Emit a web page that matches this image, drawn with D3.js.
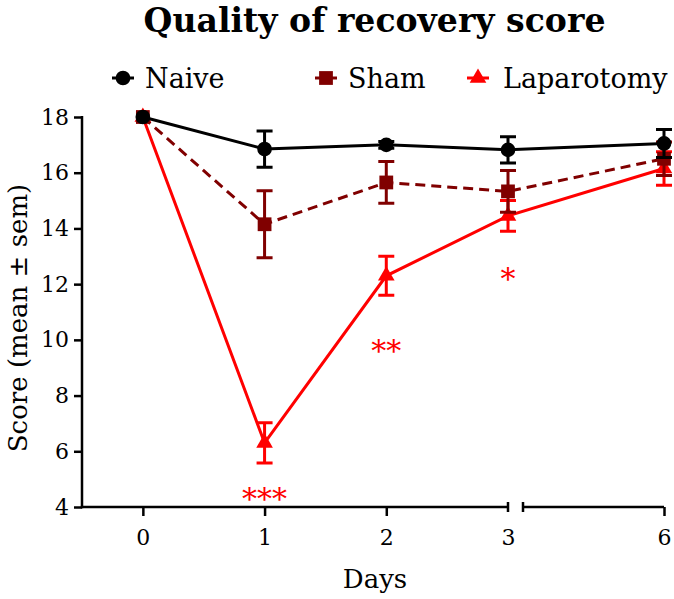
<!DOCTYPE html>
<html><head><meta charset="utf-8">
<script src="https://cdn.jsdelivr.net/npm/d3@7"></script>
<style>body{margin:0;background:#fff}svg{display:block}</style>
</head><body>
<svg id="c" width="674" height="599"></svg>
<script>
// ---- data ----
const days = [0, 1, 2, 3, 6];
const naiveMean = [18, 16.85, 17.0, 16.82, 17.05];
const naiveSem  = [0, 0.65, 0.12, 0.47, 0.5];
const shamMean  = [18, 14.15, 15.65, 15.33, 16.5];
const shamSem   = [0, 1.2, 0.75, 0.75, 0.6];
const lapMean   = [18, 6.3, 12.3, 14.45, 16.15];
const lapSem    = [0, 0.72, 0.7, 0.55, 0.6];
const yTicks = [4, 6, 8, 10, 12, 14, 16, 18];
const xTicks = [0, 1, 2, 3, 6];
const seriesNames = ["Naive", "Sham", "Laparotomy"];
const starDays = [1, 2, 3];
const starLabels = ["***", "**", "*"];
const starLevels = [4.6, 9.9, 12.5];

// ---- styles ----
const colors = {Naive: "#000000", Sham: "#800000", Laparotomy: "#ff0000"};
const FONT = "'DejaVu Serif', Georgia, serif";

const svg = d3.select("#c");
const x = d3.scaleLinear().domain([-0.5, 3, 4.84, 6]).range([82, 508, 523, 664]);
const y = d3.scaleLinear().domain([4, 18]).range([507, 117]);

// title
const title = svg.append("text").attr("x", 374.5).attr("y", 32)
  .attr("text-anchor", "middle").attr("font-family", FONT).attr("font-weight", "bold")
  .attr("font-size", 32).text("Quality of recovery score");
const tw = title.node().getComputedTextLength();
title.attr("font-size", 32 * 462 / tw);

// axes
const yAxis = svg.append("g").attr("transform", "translate(82,0)")
  .call(d3.axisLeft(y).tickValues(yTicks).tickSize(8).tickPadding(5).tickFormat(d3.format("d")));
yAxis.select(".domain").remove();
yAxis.selectAll("line").attr("stroke", "#000").attr("stroke-width", 2.5);
yAxis.selectAll("text").attr("font-family", FONT).attr("font-size", 22).attr("fill", "#000");
svg.append("line").attr("x1", 82).attr("x2", 82).attr("y1", y(18) - 1).attr("y2", y(4) + 1.25)
  .attr("stroke", "#000").attr("stroke-width", 2.5);

const xAxis = svg.append("g").attr("transform", `translate(0,${y(4)})`)
  .call(d3.axisBottom(x).tickValues(xTicks).tickSize(9).tickPadding(13).tickFormat(d3.format("d")));
xAxis.select(".domain").remove();
xAxis.selectAll("line").attr("stroke", "#000").attr("stroke-width", 2.5);
xAxis.selectAll(".tick").filter(d => d === 3).select("line").remove();
xAxis.selectAll("text").attr("font-family", FONT).attr("font-size", 22).attr("fill", "#000");
// broken baseline
const y0 = y(4);
svg.append("path").attr("fill", "none").attr("stroke", "#000").attr("stroke-width", 2.5)
  .attr("d", `M${x(-0.5) - 1.25},${y0}H${x(3)}M${x(3)},${y0 - 5}V${y0 + 5}`);
svg.append("path").attr("fill", "none").attr("stroke", "#000").attr("stroke-width", 2.5)
  .attr("d", `M${x(4.84)},${y0 - 5}V${y0 + 5}M${x(4.84)},${y0}H${x(6)}`);

// axis titles
svg.append("text").attr("transform", `translate(27,${(y(4) + y(18)) / 2 + 6}) rotate(-90)`)
  .attr("text-anchor", "middle").attr("font-family", FONT).attr("font-size", 26).text("Score (mean ± sem)");
svg.append("text").attr("x", 375).attr("y", 588).attr("text-anchor", "middle")
  .attr("font-family", FONT).attr("font-size", 26).text("Days");

// series
const series = [
  {name: "Laparotomy", mean: lapMean, sem: lapSem, sym: d3.symbolTriangle, dash: null},
  {name: "Sham", mean: shamMean, sem: shamSem, sym: d3.symbolSquare, dash: "10,6"},
  {name: "Naive", mean: naiveMean, sem: naiveSem, sym: d3.symbolCircle, dash: null}
];
const symSize = {Naive: 170, Sham: 190, Laparotomy: 120};
const line = d3.line().x(d => x(d.day)).y(d => y(d.v));
series.forEach(s => {
  const pts = days.map((d, i) => ({day: d, v: s.mean[i], e: s.sem[i]}));
  const g = svg.append("g");
  g.append("path").datum(pts).attr("d", line).attr("fill", "none")
    .attr("stroke", colors[s.name]).attr("stroke-width", 3)
    .attr("stroke-dasharray", s.dash);
  pts.filter(p => p.e > 0).forEach(p => {
    const xx = x(p.day), t = y(p.v + p.e), b = y(p.v - p.e);
    g.append("path").attr("fill", "none").attr("stroke", colors[s.name]).attr("stroke-width", 3)
      .attr("d", `M${xx},${t}V${b}M${xx - 8},${t}H${xx + 8}M${xx - 8},${b}H${xx + 8}`);
  });
  g.selectAll(".m").data(pts).join("path")
    .attr("transform", p => `translate(${x(p.day)},${y(p.v)})`)
    .attr("d", d3.symbol(s.sym, symSize[s.name])).attr("fill", colors[s.name]);
});

// significance stars
starDays.forEach((d, i) => {
  svg.append("text").attr("x", x(d)).attr("y", y(starLevels[i])).attr("dy", "0.62em")
    .attr("text-anchor", "middle").attr("font-family", FONT).attr("font-size", 30)
    .attr("fill", colors.Laparotomy).text(starLabels[i]);
});

// legend
const legX = [123, 326, 478];
const legTextX = [145, 348, 503];
const legendSyms = {Naive: d3.symbolCircle, Sham: d3.symbolSquare, Laparotomy: d3.symbolTriangle};
seriesNames.forEach((n, i) => {
  const g = svg.append("g").attr("transform", `translate(${legX[i]},78)`);
  g.append("line").attr("x1", -11).attr("x2", 11).attr("stroke", colors[n]).attr("stroke-width", 3);
  g.append("path").attr("d", d3.symbol(legendSyms[n], symSize[n])).attr("fill", colors[n]);
  svg.append("text").attr("x", legTextX[i]).attr("y", 88).attr("font-family", FONT)
    .attr("font-size", 27).text(n);
});
</script>
</body></html>
